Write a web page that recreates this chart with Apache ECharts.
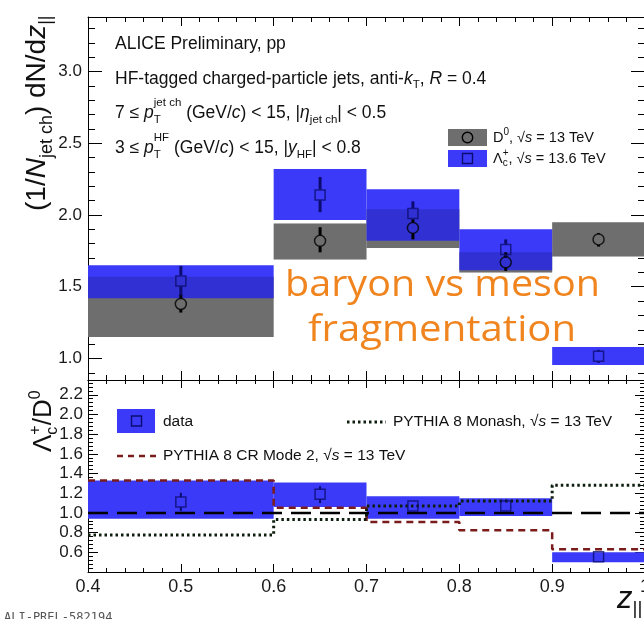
<!DOCTYPE html>
<html><head><meta charset="utf-8">
<script src="https://cdn.jsdelivr.net/npm/echarts@6/dist/echarts.min.js"></script>
<style>html,body{margin:0;padding:0;background:#fff;}#c{width:644px;height:619px;}</style>
</head><body><div id="c"></div>
<script>
// ---------------- data ----------------
const binEdges = [0.4, 0.6, 0.7, 0.8, 0.9, 1.0];
const binCenters = [0.5, 0.65, 0.75, 0.85, 0.95];
// D0, sqrt(s)=13 TeV
const d0Val    = [1.38, 1.82, 1.91, 1.67, 1.83];
const d0StatLo = [1.32, 1.74, 1.83, 1.61, 1.78];
const d0StatHi = [1.45, 1.915, 1.97, 1.74, 1.875];
const d0SysLo  = [1.15, 1.69, 1.77, 1.60, 1.71];
const d0SysHi  = [1.57, 1.94, 2.04, 1.74, 1.95];
// Lambda_c+, sqrt(s)=13.6 TeV
const lcVal    = [1.54, 2.14, 2.01, 1.76, 1.015];
const lcStatLo = [1.44, 2.02, 1.97, 1.70, 0.97];
const lcStatHi = [1.645, 2.265, 2.095, 1.83, 1.06];
const lcSysLo  = [1.42, 1.965, 1.82, 1.615, 0.955];
const lcSysHi  = [1.65, 2.32, 2.18, 1.90, 1.08];
// ratio Lambda_c+/D0
const ratioVal    = [1.11, 1.19, 1.07, 1.07, 0.555];
const ratioStatLo = [1.02, 1.10, 1.04, 1.02, 0.53];
const ratioStatHi = [1.205, 1.27, 1.10, 1.12, 0.58];
const ratioSysLo  = [0.94, 1.06, 0.94, 0.97, 0.50];
const ratioSysHi  = [1.33, 1.31, 1.17, 1.15, 0.60];
// PYTHIA predictions
const pythiaCRMode2 = [1.33, 1.053, 0.907, 0.825, 0.63];
const pythiaMonash  = [0.775, 0.934, 1.07, 1.12, 1.28];
const unityRef = 1.0;
// tick labels
const xTickLabels = [0.4, 0.5, 0.6, 0.7, 0.8, 0.9, 1.0];
const topYTickLabels = [1.0, 1.5, 2.0, 2.5, 3.0];
const lowYTickLabels = [0.6, 0.8, 1.0, 1.2, 1.4, 1.6, 1.8, 2.0, 2.2];

// ---------------- helpers ----------------
const FAM = '"Liberation Sans", Arial, sans-serif';
const cv = document.createElement('canvas'); const ctx = cv.getContext('2d');
function fnt(sz, it, fam){ return (it ? 'italic ' : '') + sz + 'px ' + (fam || FAM); }
function meas(t, sz, it, fam){ ctx.font = fnt(sz, it, fam); return ctx.measureText(t).width; }
function txt(t, x, base, sz, it, color, fam){
  return {type:'text', x:x, y: base - 0.35*sz, silent:true, z:100,
    style:{text:t, font:fnt(sz,it,fam), fill:color||'#111', align:'left', verticalAlign:'middle', textAlign:'left', textVerticalAlign:'middle'}};
}
function seq(x0, base, parts, color){
  let x = x0; const els = [];
  parts.forEach(p => {
    if (p.stack){
      let w = 0;
      p.stack.forEach(q => { els.push(txt(q.t, x, base + (q.dy||0), q.s, q.i, color)); w = Math.max(w, meas(q.t, q.s, q.i)); });
      x += w;
    } else {
      els.push(txt(p.t, x, base + (p.dy||0), p.s, p.i, color));
      x += meas(p.t, p.s, p.i);
    }
  });
  return els;
}
function range(a, b, step){ const out=[]; for (let v=a; v<=b+1e-9; v+=step) out.push(Math.round(v*1000)/1000); return out; }
function notIn(arr, ref){ return arr.filter(v => !ref.some(r => Math.abs(r-v) < 1e-6)); }

const topMin = 0.85, topMax = 3.38, lowMin = 0.4, lowMax = 2.35;
const topMinor = notIn(range(0.9, 3.3, 0.1), topYTickLabels);
const lowMajor = range(0.4, 2.2, 0.2);
const lowMinor = notIn(range(0.44, 2.32, 0.04), lowMajor);

function xa(gi, pos, showLabel, major, minor){
  return {type:'value', gridIndex:gi, position:pos, min:0.4, max:1.0, interval:0.1,
    axisLine:{show:true, onZero:false, lineStyle:{color:'#000', width:1}},
    axisTick:{show:true, inside:true, length:major, lineStyle:{color:'#000', width:1}},
    minorTick:{show:true, splitNumber:5, length:minor, lineStyle:{color:'#000', width:1}},
    splitLine:{show:false}, minorSplitLine:{show:false},
    axisLabel:{show:showLabel, margin:6, color:'#1a1a1a', fontSize:18, fontFamily:FAM,
      customValues: xTickLabels, hideOverlap:false,
      formatter: v => { const s = Math.round(v*10)/10; return s === 1 ? '1' : s.toFixed(1); }}};
}
function ya(gi, pos, min, max, tickVals, len, labels, fs, margin, showLine){
  return {type:'value', gridIndex:gi, position:pos, min:min, max:max,
    axisLine:{show:showLine, onZero:false, lineStyle:{color:'#000', width:1}},
    axisTick:{show:true, inside:true, length:len, customValues:tickVals, lineStyle:{color:'#000', width:1}},
    splitLine:{show:false},
    axisLabel:labels ? {show:true, customValues:labels, margin:margin, color:'#1a1a1a', fontSize:fs, fontFamily:FAM,
      formatter: v => (Math.round(v*10)/10).toFixed(1)} : {show:false}};
}

function boxRender(color, opacity){
  return function(params, api){
    const a = api.coord([api.value(0), api.value(3)]);
    const b = api.coord([api.value(1), api.value(2)]);
    return {type:'rect', shape:{x:a[0], y:a[1], width:b[0]-a[0], height:b[1]-a[1]}, style:{fill:color, opacity:opacity}};
  };
}
function errRender(color, width, gap){
  return function(params, api){
    const x = api.value(0);
    const c = api.coord([x, api.value(1)]), l = api.coord([x, api.value(2)]), h = api.coord([x, api.value(3)]);
    const ch = [];
    if (l[1] > c[1] + gap) ch.push({type:'line', shape:{x1:c[0], y1:c[1]+gap, x2:c[0], y2:l[1]}, style:{stroke:color, lineWidth:width}});
    if (h[1] < c[1] - gap) ch.push({type:'line', shape:{x1:c[0], y1:c[1]-gap, x2:c[0], y2:h[1]}, style:{stroke:color, lineWidth:width}});
    return {type:'group', children:ch};
  };
}
function boxData(lo, hi){ return lo.map((v,i) => [binEdges[i], binEdges[i+1], v, hi[i]]); }
function errData(val, lo, hi){ return val.map((v,i) => [binCenters[i], v, lo[i], hi[i]]); }
function ptData(val){ return val.map((v,i) => [binCenters[i], v]); }
function stepData(vals){ const o=[]; vals.forEach((v,i)=>{ o.push([binEdges[i], v]); o.push([binEdges[i+1], v]); }); return o; }

const BLUE = '#3a3af8', GRAY = '#828282', NAVY = '#0c0c70';

function custom(xi, yi, data, render, z){ return {type:'custom', xAxisIndex:xi, yAxisIndex:yi, data:data, renderItem:render, z:z, silent:true, clip:true, animation:false}; }

const series = [
  custom(0, 0, boxData(d0SysLo, d0SysHi), boxRender(GRAY, 1), 1),
  custom(0, 0, boxData(lcSysLo, lcSysHi), boxRender(BLUE, 1), 2),
  custom(0, 0, boxData(d0SysLo, d0SysHi), boxRender('#000', 0.15), 3),
  custom(0, 0, errData(d0Val, d0StatLo, d0StatHi), errRender('#000', 3, 5.5), 4),
  custom(0, 0, errData(lcVal, lcStatLo, lcStatHi), errRender(NAVY, 3, 5.5), 4),
  {type:'scatter', xAxisIndex:0, yAxisIndex:0, data:ptData(d0Val), symbol:'circle', symbolSize:11, z:5, silent:true, animation:false,
    itemStyle:{color:'rgba(0,0,0,0)', borderColor:'#000', borderWidth:1.5}},
  {type:'scatter', xAxisIndex:0, yAxisIndex:0, data:ptData(lcVal), symbol:'rect', symbolSize:10, z:5, silent:true, animation:false,
    itemStyle:{color:'rgba(0,0,0,0)', borderColor:NAVY, borderWidth:1.5}},
  // lower panel
  custom(2, 4, boxData(ratioSysLo, ratioSysHi), boxRender(BLUE, 1), 1),
  {type:'line', xAxisIndex:2, yAxisIndex:4, data:stepData(pythiaCRMode2), symbol:'none', z:3, silent:true, animation:false,
    lineStyle:{color:'#7a1c1c', width:2.5, type:[7,5]}},
  {type:'line', xAxisIndex:2, yAxisIndex:4, data:stepData(pythiaMonash), symbol:'none', z:3, silent:true, animation:false,
    lineStyle:{color:'#0e1e0e', width:3, type:[2.5,3]}},
  {type:'line', xAxisIndex:2, yAxisIndex:4, data:[[binEdges[0], unityRef], [binEdges[binEdges.length-1], unityRef]], symbol:'none', z:3, silent:true, animation:false,
    lineStyle:{color:'#000', width:2.5, type:[20,9]}},
  custom(2, 4, errData(ratioVal, ratioStatLo, ratioStatHi), errRender(NAVY, 2, 5), 4),
  {type:'scatter', xAxisIndex:2, yAxisIndex:4, data:ptData(ratioVal), symbol:'rect', symbolSize:10, z:5, silent:true, animation:false,
    itemStyle:{color:'rgba(0,0,0,0)', borderColor:NAVY, borderWidth:1.5}}
];

// ---------------- text / legends ----------------
const G = [];
const S = 17.5, sS = 11.5;
G.push(...seq(115, 50, [{t:'ALICE Preliminary, pp', s:S}]));
G.push(...seq(115, 85, [{t:'HF-tagged charged-particle jets, anti-', s:S}, {t:'k', s:S, i:true}, {t:'T', s:sS, dy:4}, {t:', ', s:S}, {t:'R', s:S, i:true}, {t:' = 0.4', s:S}]));
G.push(...seq(115, 119, [{t:'7 ≤ ', s:S}, {t:'p', s:S, i:true}, {stack:[{t:'jet ch', s:sS, dy:-12}, {t:'T', s:sS, dy:5}]},
  {t:' (GeV/', s:S}, {t:'c', s:S, i:true}, {t:') < 15, |', s:S}, {t:'η', s:S, i:true}, {t:'jet ch', s:sS, dy:5}, {t:'| < 0.5', s:S}]));
G.push(...seq(115, 154, [{t:'3 ≤ ', s:S}, {t:'p', s:S, i:true}, {stack:[{t:'HF', s:sS, dy:-12}, {t:'T', s:sS, dy:5}]},
  {t:' (GeV/', s:S}, {t:'c', s:S, i:true}, {t:') < 15, |', s:S}, {t:'y', s:S, i:true}, {t:'HF', s:sS, dy:5}, {t:'| < 0.8', s:S}]));

// top legend
const LS = 14.5, lsS = 10;
G.push({type:'rect', shape:{x:448, y:129, width:39, height:17}, style:{fill:'#6e6e6e'}, z:90, silent:true});
G.push({type:'circle', shape:{cx:467.5, cy:137.5, r:5.2}, style:{fill:'none', stroke:'#000', lineWidth:1.4}, z:91, silent:true});
G.push({type:'rect', shape:{x:448, y:150, width:39, height:17}, style:{fill:BLUE}, z:90, silent:true});
G.push({type:'rect', shape:{x:462.5, y:153.5, width:10, height:10}, style:{fill:'none', stroke:NAVY, lineWidth:1.4}, z:91, silent:true});
G.push(...seq(493, 143, [{t:'D', s:LS}, {t:'0', s:lsS, dy:-7}, {t:', √', s:LS}, {t:'s', s:LS, i:true}, {t:' = 13 TeV', s:LS}]));
G.push(...seq(493, 164, [{t:'Λ', s:LS}, {stack:[{t:'+', s:lsS, dy:-7}, {t:'c', s:lsS, dy:3}]}, {t:', √', s:LS}, {t:'s', s:LS, i:true}, {t:' = 13.6 TeV', s:LS}]));

// lower legend
const LL = 15.5;
G.push({type:'rect', shape:{x:117, y:409, width:38, height:24}, style:{fill:BLUE}, z:90, silent:true});
G.push({type:'rect', shape:{x:131.5, y:416, width:10, height:10}, style:{fill:'none', stroke:NAVY, lineWidth:1.4}, z:91, silent:true});
G.push(...seq(163, 427, [{t:'data', s:LL}]));
G.push({type:'line', shape:{x1:347, y1:422, x2:386, y2:422}, style:{stroke:'#0e1e0e', lineWidth:3, lineDash:[2.5,3]}, z:90, silent:true});
G.push(...seq(393, 427.5, [{t:'PYTHIA 8 Monash, √', s:LL}, {t:'s', s:LL, i:true}, {t:' = 13 TeV', s:LL}]));
G.push({type:'line', shape:{x1:117, y1:456, x2:156, y2:456}, style:{stroke:'#7a1c1c', lineWidth:2.5, lineDash:[6,5]}, z:90, silent:true});
G.push(...seq(163, 461.5, [{t:'PYTHIA 8 CR Mode 2, √', s:LL}, {t:'s', s:LL, i:true}, {t:' = 13 TeV', s:LL}]));

// axis titles
G.push({type:'group', x:47, y:211, rotation:Math.PI/2, z:100, children:
  seq(0, 0, [{t:'(1/', s:28}, {t:'N', s:28, i:true}, {t:'jet ch', s:18, dy:6}, {t:') dN/d', s:28}, {t:'z', s:28, i:true}, {t:'||', s:18, dy:5}])});
G.push({type:'group', x:53, y:452, rotation:Math.PI/2, z:100, children:
  seq(0, 0, [{t:'Λ', s:26}, {stack:[{t:'+', s:16, dy:-12}, {t:'c', s:16, dy:5}]}, {t:'/D', s:26}, {t:'0', s:16, dy:-12}])});
G.push(...seq(617, 610, [{t:'z', s:31, i:true}, {t:'||', s:19, dy:5}]));

// preliminary id
G.push(txt('ALI-PREL-582194', 4, 622, 12, false, '#555', '"DejaVu Sans Mono", monospace'));

// orange overlay
function orange(t, cx, base, size, targetW){
  const w = meas(t, size, false, '"Open Sans", sans-serif');
  return {type:'text', x:cx, y:base - 0.35*size, scaleX: targetW / w, z:120, silent:true,
    style:{text:t, font:size + 'px "Open Sans", sans-serif', fill:'#f0851f', align:'center', verticalAlign:'middle', textAlign:'center', textVerticalAlign:'middle'}};
}
G.push(orange('baryon vs meson', 442.5, 298, 37, 315));
G.push(orange('fragmentation', 442, 343, 37, 268));

const option = {
  animation:false,
  backgroundColor:'#fff',
  grid:[{left:88, top:17, width:557, height:363, containLabel:false, outerBoundsMode:'none'},
        {left:88, top:380, width:557, height:192, containLabel:false, outerBoundsMode:'none'}],
  xAxis:[xa(0,'bottom',false,9,5), xa(0,'top',false,9,5), xa(1,'bottom',true,8,4), xa(1,'top',false,8,4)],
  yAxis:[
    ya(0,'left', topMin, topMax, topYTickLabels, 14, topYTickLabels, 17, 6, true),
    ya(0,'left', topMin, topMax, topMinor, 7, null, 0, 0, false),
    ya(0,'right', topMin, topMax, topYTickLabels, 14, null, 0, 0, true),
    ya(0,'right', topMin, topMax, topMinor, 7, null, 0, 0, false),
    ya(1,'left', lowMin, lowMax, lowMajor, 10, lowYTickLabels, 17, 5, true),
    ya(1,'left', lowMin, lowMax, lowMinor, 5, null, 0, 0, false),
    ya(1,'right', lowMin, lowMax, lowMajor, 10, null, 0, 0, true),
    ya(1,'right', lowMin, lowMax, lowMinor, 5, null, 0, 0, false)
  ],
  series: series,
  graphic:{elements:G}
};
const chart = echarts.init(document.getElementById('c'), null, {renderer:'canvas'});
chart.setOption(option);
</script></body></html>
